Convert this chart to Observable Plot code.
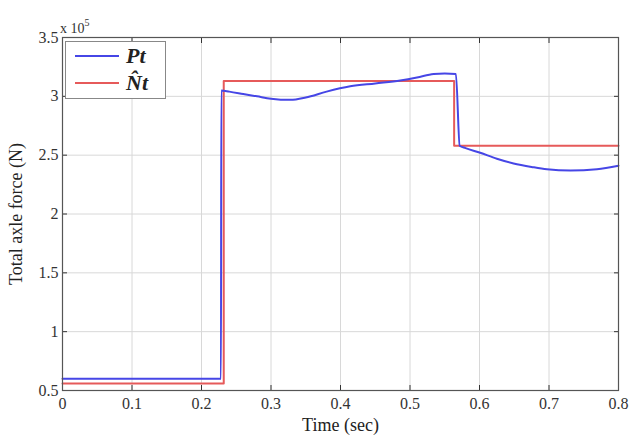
<!DOCTYPE html>
<html><head><meta charset="utf-8">
<script src="https://cdn.jsdelivr.net/npm/d3@7"></script>
<script src="https://cdn.jsdelivr.net/npm/@observablehq/plot@0.6"></script>
<style>
body{margin:0;background:#fff;}
#wrap{position:relative;width:631px;height:438px;font-family:"Liberation Serif","Times New Roman",serif;}
#wrap svg text{font-family:"Liberation Serif","Times New Roman",serif !important;}
#exp{position:absolute;left:60px;top:18px;font-size:14px;color:#333;}
#exp sup{font-size:10px;position:relative;top:-1px;}
#legend{position:absolute;left:65px;top:41px;width:101px;height:58px;box-sizing:border-box;border:1.5px solid #888;background:#fff;}
.row{position:absolute;left:9px;height:22px;display:flex;align-items:center;}
.sw{width:44px;height:0;border-top:2px solid;margin-right:7px;}
.lab{font-size:22px;font-weight:bold;font-style:italic;color:#222;}
</style></head><body><div id="wrap"></div>
<script>
// Blue series Pt (time in sec, force in N)
const ptTime  = [0, 0.05, 0.10, 0.15, 0.20, 0.228, 0.2285, 0.24, 0.26, 0.28, 0.30, 0.328, 0.35, 0.38, 0.414, 0.45, 0.486, 0.51, 0.534, 0.55, 0.566, 0.5715, 0.58, 0.601, 0.625, 0.649, 0.675, 0.697, 0.731, 0.769, 0.80];
const ptForce = [0.60e5, 0.60e5, 0.60e5, 0.60e5, 0.60e5, 0.60e5, 3.05e5, 3.04e5, 3.02e5, 3.00e5, 2.98e5, 2.97e5, 2.99e5, 3.04e5, 3.085e5, 3.11e5, 3.135e5, 3.16e5, 3.19e5, 3.195e5, 3.19e5, 2.58e5, 2.56e5, 2.52e5, 2.47e5, 2.43e5, 2.40e5, 2.38e5, 2.37e5, 2.38e5, 2.41e5];
// Red series N̂t
const ntTime  = [0, 0.232, 0.232, 0.5635, 0.5635, 0.80];
const ntForce = [0.56e5, 0.56e5, 3.13e5, 3.13e5, 2.58e5, 2.58e5];
// Ticks
const xTicks = [0, 0.1, 0.2, 0.3, 0.4, 0.5, 0.6, 0.7, 0.8];
const yTicks = [0.5e5, 1e5, 1.5e5, 2e5, 2.5e5, 3e5, 3.5e5];
const seriesNames = ["Pt", "N\u0302t"];
const seriesColors = ["#4646e6", "#e65a5a"];

const pt = ptTime.map((t, i) => ({t, f: ptForce[i]}));
const nt = ntTime.map((t, i) => ({t, f: ntForce[i]}));

const chart = Plot.plot({
  width: 631, height: 438,
  marginLeft: 62, marginRight: 13, marginTop: 37, marginBottom: 48,
  style: {fontFamily: "'Liberation Serif','Times New Roman',serif", fontSize: "16px", color: "#333", background: "transparent"},
  x: {domain: [0, 0.8]},
  y: {domain: [0.5e5, 3.5e5]},
  marks: [
    Plot.gridX(xTicks, {stroke: "#d8d8d8", strokeOpacity: 1}),
    Plot.gridY(yTicks, {stroke: "#d8d8d8", strokeOpacity: 1}),
    Plot.axisX(xTicks, {anchor: "bottom", tickSize: -5, tickPadding: 12, tickFormat: d => String(d),
      label: "Time (sec)", labelAnchor: "center", labelArrow: "none", labelOffset: 40, fontSize: 16}),
    Plot.axisX(xTicks, {anchor: "top", tickSize: -5, tickFormat: () => "", label: null}),
    Plot.axisY(yTicks, {anchor: "left", tickSize: -5, tickPadding: 9, tickFormat: d => String(d / 1e5),
      label: "Total axle force (N)", labelAnchor: "center", labelArrow: "none", labelOffset: 53, fontSize: 16}),
    Plot.axisY(yTicks, {anchor: "right", tickSize: -5, tickFormat: () => "", label: null}),
    Plot.line(nt, {x: "t", y: "f", stroke: seriesColors[1], strokeWidth: 2}),
    Plot.line(pt, {x: "t", y: "f", stroke: seriesColors[0], strokeWidth: 2, curve: "monotone-x"}),
    Plot.frame({stroke: "#555", strokeWidth: 1.2})
  ]
});
const wrap = document.getElementById("wrap");
wrap.appendChild(chart);
d3.select(chart).selectAll("g[aria-label='x-axis label'] text, g[aria-label='y-axis label'] text").style("font-size", "18px").style("fill", "#222");

const exp = document.createElement("div");
exp.id = "exp";
exp.innerHTML = "x 10<sup>5</sup>";
wrap.appendChild(exp);

const leg = document.createElement("div");
leg.id = "legend";
seriesNames.forEach((n, i) => {
  const r = document.createElement("div");
  r.className = "row";
  r.style.top = (3 + i * 27) + "px";
  r.innerHTML = `<div class="sw" style="border-color:${seriesColors[i]}"></div><span class="lab">${n}</span>`;
  leg.appendChild(r);
});
wrap.appendChild(leg);
</script></body></html>
